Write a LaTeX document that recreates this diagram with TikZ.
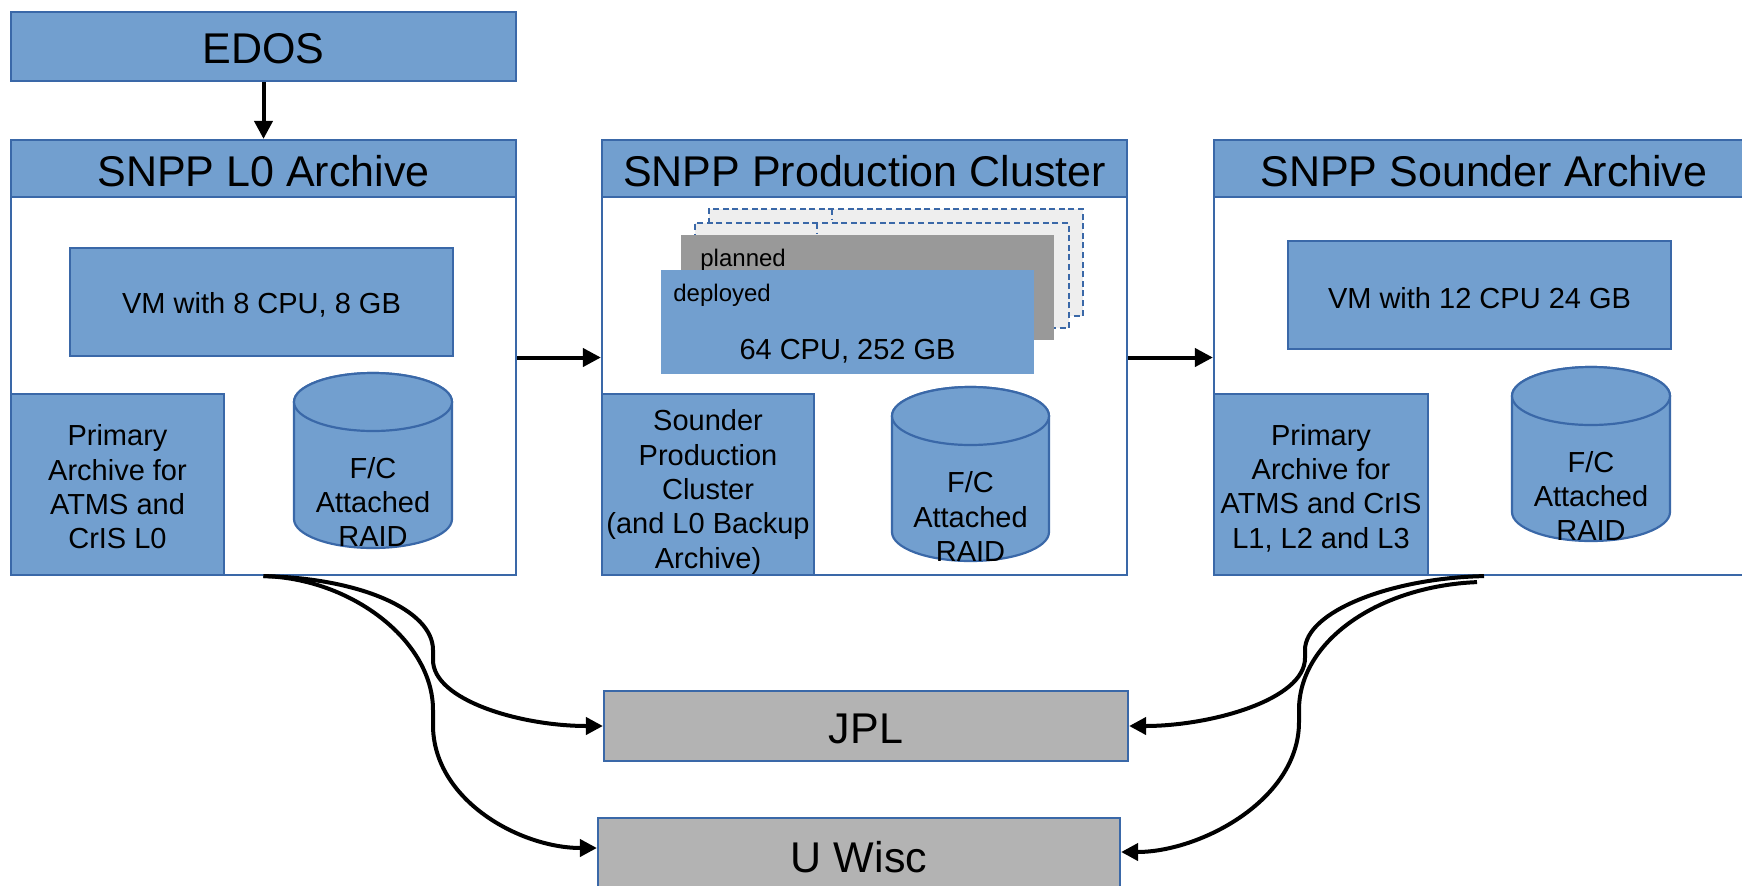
\documentclass[tikz,border=0pt]{standalone}
\usepackage{fontspec}
\setmainfont{Liberation Sans}
\usetikzlibrary{arrows.meta}
\definecolor{fillc}{RGB}{114,159,207}
\definecolor{bordc}{RGB}{58,104,168}
\definecolor{grayc}{RGB}{179,179,179}
\definecolor{planc}{RGB}{153,153,153}
\definecolor{dashc}{RGB}{238,238,238}
\begin{document}
\begin{tikzpicture}[x=0.5pt,y=-0.5pt,
  bluebox/.style={draw=bordc, fill=fillc, line width=1.1pt, inner sep=0pt, align=center},
  whitebox/.style={draw=bordc, fill=white, line width=1.1pt, inner sep=0pt},
  graybox/.style={draw=bordc, fill=grayc, line width=1.1pt, inner sep=0pt},
  dashbox/.style={draw=bordc, fill=dashc, line width=1.4pt, dash pattern=on 3pt off 1.8pt, inner sep=0pt},
  plainbox/.style={inner sep=0pt},
  cyl/.style={draw=bordc, fill=fillc, line width=1.1pt},
  big/.style={font=\fontsize{21.5}{25}\selectfont},
  mid/.style={font=\fontsize{14.5}{17.2}\selectfont},
  small/.style={font=\fontsize{12}{14}\selectfont},
  arr/.style={line width=2pt, -{Triangle[length=9pt,width=9pt]}},
  curv/.style={line width=2pt, -{Triangle[length=8.5pt,width=8.5pt]}}
]
\useasboundingbox (0,0) rectangle (1742,885);

% EDOS
\node[bluebox, big, minimum width=252.5pt, minimum height=34.5pt] (edos) at (263.5,46.5) {};
\node[big, inner sep=0pt] (edostxt) at (263.5,49) {EDOS};

% L0 archive
\node[whitebox, minimum width=252.5pt, minimum height=217.5pt] (l0) at (263.5,357.5) {};
\node[bluebox, big, minimum width=252.5pt, minimum height=28.5pt] (l0hdr) at (263.5,168.5) {};
\node[big, inner sep=0pt] (l0hdrtxt) at (263.5,171) {SNPP L0 Archive};
\node[bluebox, mid, minimum width=191.5pt, minimum height=54pt] (l0vm) at (261.5,302) {};
\node[mid, inner sep=0pt] (l0vmtxt) at (261.5,305) {VM with 8 CPU, 8 GB};
\node[bluebox, mid, minimum width=106.5pt, minimum height=90.5pt] (l0prim) at (117.5,484.5) {};
\node[mid, align=center, inner sep=0pt] (l0primtxt) at (117.5,487) {Primary\\Archive for\\ATMS and\\CrIS L0};
\path[cyl] (294,402) -- (294,519) arc[start angle=180, end angle=360, x radius=39.5pt, y radius=14.5pt] -- (452,402) arc[start angle=0, end angle=180, x radius=39.5pt, y radius=14.5pt] -- cycle;
\draw[cyl] (373,402) ellipse[x radius=39.5pt, y radius=14.5pt];
\node[mid, align=center, inner sep=0pt] (l0raid) at (373,502) {F/C\\Attached\\RAID};

% Production cluster
\node[whitebox, minimum width=262.5pt, minimum height=217.5pt] (prod) at (864.5,357.5) {};
\node[bluebox, big, minimum width=262.5pt, minimum height=28.5pt] (prodhdr) at (864.5,168.5) {};
\node[big, inner sep=0pt] (prodhdrtxt) at (864.5,171) {SNPP Production Cluster};
\node[dashbox, minimum width=187pt, minimum height=53.5pt] (dashb) at (896,262.5) {};
\node[dashbox, minimum width=187pt, minimum height=52.5pt] (dasha) at (882,275.5) {};
\draw[bordc, line width=1.4pt, dash pattern=on 3pt off 1.8pt] (832,209) -- (832,220);
\draw[bordc, line width=1.4pt, dash pattern=on 3pt off 1.8pt] (817,223) -- (817,234);
\node[plainbox, fill=planc, minimum width=186.5pt, minimum height=52.5pt] (planned) at (867.5,287.5) {};
\node[small, anchor=base west, inner sep=0pt] (plannedtxt) at (700,266) {planned};
\node[plainbox, fill=fillc, minimum width=186.5pt, minimum height=52pt] (deployed) at (847.5,322) {};
\node[small, anchor=base west, inner sep=0pt] (deployedtxt) at (673,301) {deployed};
\node[mid, anchor=base, inner sep=0pt] (cputxt) at (847.5,359) {64 CPU, 252 GB};
\node[bluebox, mid, minimum width=106pt, minimum height=90.5pt] (prodsnd) at (708,484.5) {};
\node[mid, align=center, inner sep=0pt] (prodsndtxt) at (708,492) {Sounder\\Production\\Cluster\\(and L0 Backup\\Archive)};
\path[cyl] (892,416) -- (892,532) arc[start angle=180, end angle=360, x radius=39.25pt, y radius=14.5pt] -- (1049,416) arc[start angle=0, end angle=180, x radius=39.25pt, y radius=14.5pt] -- cycle;
\draw[cyl] (970.5,416) ellipse[x radius=39.25pt, y radius=14.5pt];
\node[mid, align=center, inner sep=0pt] (prodraid) at (970.5,516.5) {F/C\\Attached\\RAID};

% Sounder archive
\node[whitebox, minimum width=270pt, minimum height=217.5pt] (snd) at (1484,357.5) {};
\node[bluebox, big, minimum width=270pt, minimum height=28.5pt] (sndhdr) at (1484,168.5) {};
\node[big, inner sep=0pt] (sndhdrtxt) at (1484,171) {SNPP Sounder Archive};
\node[bluebox, mid, minimum width=191.5pt, minimum height=54pt] (sndvm) at (1479.5,295) {};
\node[mid, inner sep=0pt] (sndvmtxt) at (1479.5,298) {VM with 12 CPU 24 GB};
\node[bluebox, mid, minimum width=107pt, minimum height=90.5pt] (sndprim) at (1321,484.5) {};
\node[mid, align=center, inner sep=0pt] (sndprimtxt) at (1321,488) {Primary\\Archive for\\ATMS and CrIS\\L1, L2 and L3};
\path[cyl] (1512,396) -- (1512,512) arc[start angle=180, end angle=360, x radius=39.5pt, y radius=14.5pt] -- (1670,396) arc[start angle=0, end angle=180, x radius=39.5pt, y radius=14.5pt] -- cycle;
\draw[cyl] (1591,396) ellipse[x radius=39.5pt, y radius=14.5pt];
\node[mid, align=center, inner sep=0pt] (sndraid) at (1591,496) {F/C\\Attached\\RAID};

% Destinations
\node[graybox, minimum width=262pt, minimum height=35pt] (jpl) at (866,726) {};
\node[big, inner sep=0pt] (jpltxt) at (866,729) {JPL};
\node[graybox, minimum width=261pt, minimum height=37pt] (uwisc) at (859,855) {};
\node[big, inner sep=0pt] (uwisctxt) at (859,857) {U Wisc};

% Connectors
\draw[arr] (edos.south) -- (l0hdr.north);
\draw[arr] (l0.east) -- (prod.west);
\draw[arr] (prod.east) -- (snd.west);

\draw[curv] (l0.south) .. controls (360,578) and (433,610) .. (433,650) -- (433,660) .. controls (433,700) and (520,726) .. (jpl.west);
\draw[curv] (l0.south) .. controls (350,578) and (433,640) .. (433,710) -- (433,725) .. controls (433,800) and (520,848) .. ([yshift=3.5pt]uwisc.west);
\draw[curv] (snd.south) .. controls (1390,578) and (1305,612) .. (1305,650) -- (1305,658) .. controls (1305,700) and (1210,726) .. (jpl.east);
\draw[curv] ([xshift=-3.5pt,yshift=-3pt]snd.south) .. controls (1380,586) and (1299,640) .. (1299,710) -- (1299,722) .. controls (1299,800) and (1200,852) .. ([yshift=1.5pt]uwisc.east);
\end{tikzpicture}
\end{document}
